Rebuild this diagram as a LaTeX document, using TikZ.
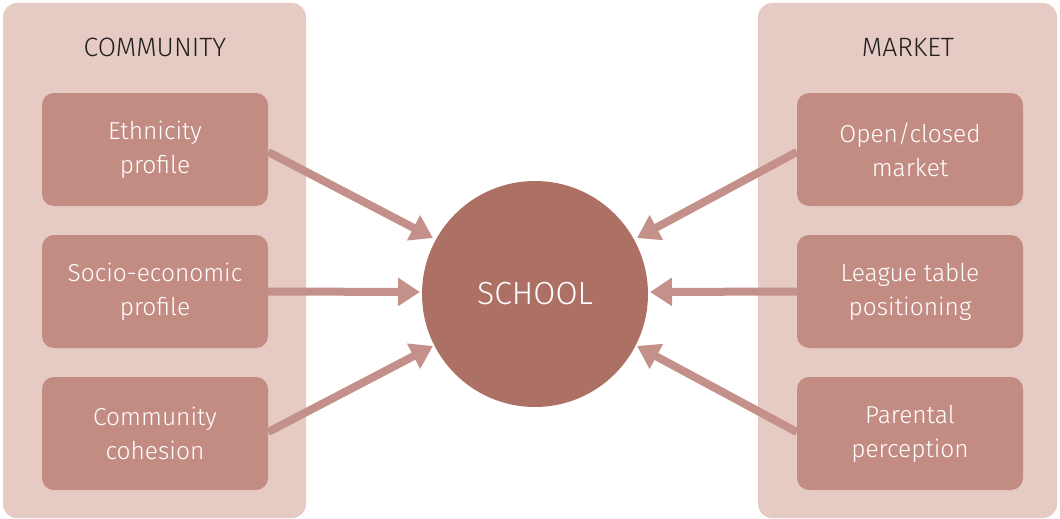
\documentclass[tikz,border=0pt]{standalone}
\usepackage{fontspec}
\setmainfont{Fira Sans}[UprightFont=* Light]
\usetikzlibrary{arrows.meta}
\definecolor{panelc}{HTML}{E6CAC4}
\definecolor{boxc}{HTML}{C38C83}
\definecolor{circc}{HTML}{AD7064}
\definecolor{arrc}{HTML}{C4908A}
\definecolor{titlec}{HTML}{231F20}
\begin{document}
\begin{tikzpicture}[x=1pt,y=-1pt,
  panel/.style={fill=panelc,draw=none,rounded corners=14pt,minimum width=303pt,minimum height=515pt,inner sep=0pt},
  item/.style={fill=boxc,draw=none,rounded corners=12pt,minimum width=226pt,minimum height=113pt,text=white,font=\fontsize{24.5}{34}\selectfont,align=center,inner sep=0pt},
  title/.style={text=titlec,font=\fontsize{26.5}{30}\selectfont,inner sep=0pt},
  hub/.style={circle,fill=circc,draw=none,minimum size=226pt,text=white,font=\fontsize{32}{36}\selectfont,inner sep=0pt},
  link/.style={draw=arrc,line width=8pt,-{Triangle[length=22pt,width=27pt]}}
]
\useasboundingbox (0,0) rectangle (1060,519);
\node[panel] (lp) at (154.5,260.5) {};
\node[panel,minimum width=299pt] (rp) at (907.5,260.5) {};
\node[title] (lt) at (155,47) {COMMUNITY};
\node[title] (rt) at (908,47) {MARKET};
\node[item] (a1) at (155,149.5) {Ethnicity\\profile};
\node[item] (a2) at (155,291.5) {Socio-economic\\profile};
\node[item] (a3) at (155,433.5) {Community\\cohesion};
\node[item] (b1) at (910,149.5) {Open/closed\\market};
\node[item] (b2) at (910,291.5) {League table\\positioning};
\node[item] (b3) at (910,433.5) {Parental\\perception};
\node[hub] (s) at (535,294) {SCHOOL};
\coordinate (ea1) at (433,238);
\coordinate (ea2) at (420,292);
\coordinate (ea3) at (433,346);
\coordinate (eb1) at (637,238);
\coordinate (eb2) at (650,292);
\coordinate (eb3) at (637,346);
\draw[link] (a1.east |- 0,152) -- (ea1);
\draw[link] (a2.east) -- (ea2);
\draw[link] (a3.east |- 0,432) -- (ea3);
\draw[link] (b1.west |- 0,152) -- (eb1);
\draw[link] (b2.west) -- (eb2);
\draw[link] (b3.west |- 0,432) -- (eb3);
\end{tikzpicture}
\end{document}
